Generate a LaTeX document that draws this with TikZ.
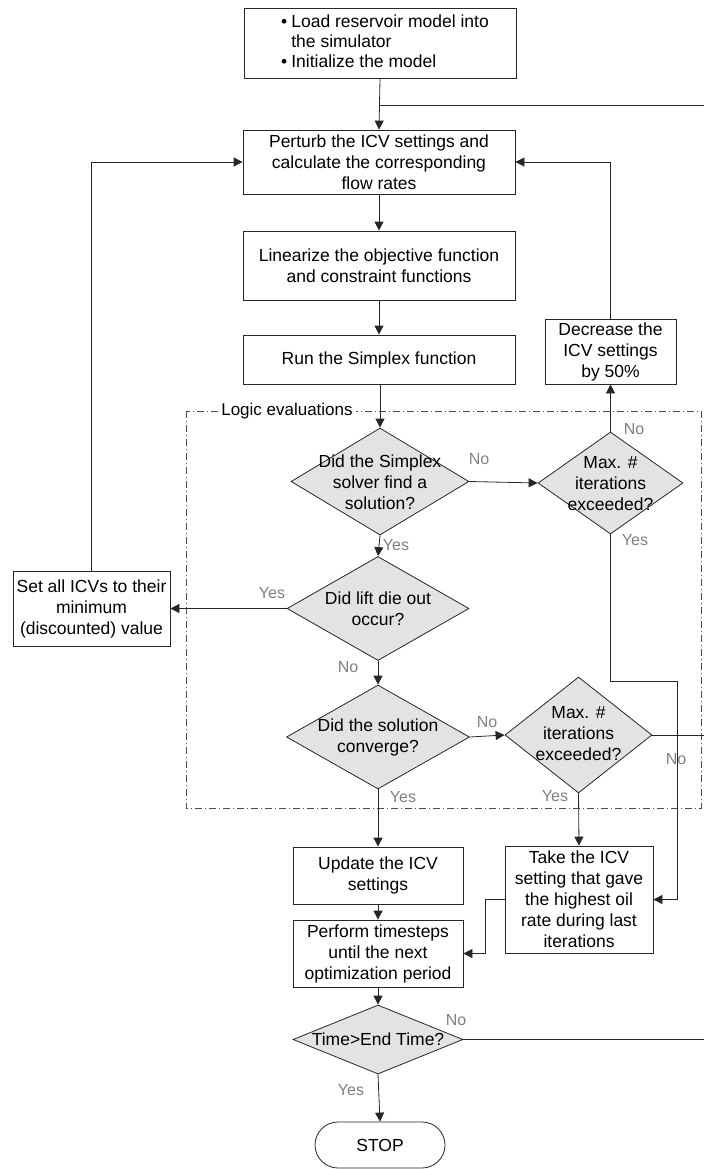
\documentclass[tikz,border=0pt]{standalone}
\usepackage{fontspec}
\setmainfont{Liberation Sans}
\usetikzlibrary{shapes.geometric,arrows.meta}
\begin{document}
\begin{tikzpicture}[x=1pt,y=-1pt,
  every node/.style={font=\fontsize{17.5}{21}\selectfont},
  proc/.style={draw=black!85, line width=0.8pt, fill=white, inner sep=0pt, align=center},
  dia/.style={diamond, draw=black!85, line width=0.8pt, fill=black!11, inner sep=0pt, aspect=1},
  dtext/.style={align=center, inner sep=0pt},
  lbl/.style={text=black!50, font=\fontsize{16}{18}\selectfont, inner sep=0pt},
  arr/.style={draw=black!85, line width=0.8pt, -{Triangle[length=9pt,width=9pt]}},
  ln/.style={draw=black!85, line width=0.8pt},
  frame/.style={draw=black!70, line width=0.7pt, dash pattern=on 7pt off 3pt on 1pt off 3pt}]
\useasboundingbox (0,0) rectangle (704,1169);

% logic evaluation frame
\draw[frame] (186,411) rectangle (701,808);
\node[fill=white, inner xsep=3pt, inner ysep=1pt, font=\fontsize{17}{20}\selectfont] (logic) at (287,411) {Logic evaluations};

% process boxes
\node[proc, minimum width=272pt, minimum height=70pt] (load) at (380,43.5)
  {\hspace*{10pt}\begin{tabular}{@{}l@{\hspace{4pt}}l@{}}\textbullet & Load reservoir model into\\[-1pt] & the simulator\\[-1pt] \textbullet & Initialize the model\end{tabular}};
\node[proc, minimum width=272pt, minimum height=64pt] (pert) at (379,162)
  {Perturb the ICV settings and\\calculate the corresponding\\flow rates};
\node[proc, minimum width=272pt, minimum height=69pt] (lin) at (379,265.5)
  {Linearize the objective function\\and constraint functions};
\node[proc, minimum width=272pt, minimum height=49pt] (simp) at (379,359.5)
  {Run the Simplex function};
\node[proc, minimum width=131pt, minimum height=65pt] (dec) at (610.5,351.5)
  {Decrease the\\ICV settings\\by 50\%};
\node[proc, minimum width=157pt, minimum height=75pt] (setall) at (91.5,608.5)
  {Set all ICVs to their\\minimum\\(discounted) value};
\node[proc, minimum width=170pt, minimum height=57pt] (upd) at (378,875.5)
  {Update the ICV\\settings};
\node[proc, minimum width=170pt, minimum height=67pt] (perf) at (378,953.5)
  {Perform timesteps\\until the next\\optimization period};
\node[proc, minimum width=148pt, minimum height=107pt] (take) at (579,899.5)
  {Take the ICV\\setting that gave\\the highest oil\\rate during last\\iterations};
\node[proc, rounded corners=23pt, minimum width=130pt, minimum height=46pt] (stop) at (380,1145)
  {STOP};

% decisions
\node[dia, minimum width=178pt, minimum height=107pt] (d1) at (380,481.5) {};
\node[dtext] (d1t) at (380,482) {Did the Simplex\\solver find a\\solution?};
\node[dia, minimum width=145pt, minimum height=102pt] (d2) at (610.5,483) {};
\node[dtext] (d2t) at (610.5,484) {Max. \#\\iterations\\exceeded?};
\node[dia, minimum width=182pt, minimum height=104pt] (d3) at (378,608.5) {};
\node[dtext] (d3t) at (378,609) {Did lift die out\\occur?};
\node[dia, minimum width=183pt, minimum height=104pt] (d4) at (378,737) {};
\node[dtext] (d4t) at (378,737) {Did the solution\\converge?};
\node[dia, minimum width=147pt, minimum height=116pt] (d5) at (578.5,735) {};
\node[dtext] (d5t) at (578.5,734) {Max. \#\\iterations\\exceeded?};
\node[dia, minimum width=170pt, minimum height=69pt] (d6) at (378,1039.5) {};
\node[dtext] (d6t) at (378,1039.5) {Time>End Time?};

% free ends at the right edge
\coordinate (j1) at (380,105);
\coordinate (r1) at (704,105);
\coordinate (r5) at (704,735);
\coordinate (r6) at (704,1039.5);

% connectors
\draw[arr] (load.south) -- (pert.north);
\draw[ln] (j1) -- (r1);
\draw[arr] (pert.south) -- (lin.north);
\draw[arr] (lin.south) -- (simp.north);
\draw[arr] (simp.south -| d1.north) -- (d1.north);
\draw[arr] (d1.east) -- (d2.west);
\draw[arr] (d2.north) -- (dec.south);
\draw[arr] (dec.north) |- (pert.east);
\draw[arr] (d1.south) -- (d3.north);
\draw[arr] (d3.west) -- (setall.east |- d3.west);
\draw[arr] (setall.north) |- (pert.west);
\draw[arr] (d3.south) -- (d4.north);
\draw[arr] (d4.east) -- (d5.west);
\draw[ln] (d5.east) -- (r5);
\draw[arr] (d4.south) -- (upd.north);
\draw[arr] (d5.south) -- (take.north);
\draw[arr] (d2.south) -- (610.5,681) -- (677,681) |- (take.east);
\draw[arr] (take.west) -- (485,899.5) |- (perf.east);
\draw[arr] (upd.south) -- (perf.north);
\draw[arr] (perf.south) -- (d6.north);
\draw[ln] (d6.east) -- (r6);
\draw[arr] (d6.south) -- (stop.north);

% branch labels
\node[lbl] (l1) at (479,459) {No};
\node[lbl] (l2) at (396,545) {Yes};
\node[lbl] (l3) at (634,429) {No};
\node[lbl] (l4) at (635,540) {Yes};
\node[lbl] (l5) at (272,593) {Yes};
\node[lbl] (l6) at (348,667) {No};
\node[lbl] (l7) at (487,722) {No};
\node[lbl] (l8) at (403,797) {Yes};
\node[lbl] (l9) at (555,796) {Yes};
\node[lbl] (l10) at (676,759) {No};
\node[lbl] (l11) at (456,1020) {No};
\node[lbl] (l12) at (351,1090) {Yes};
\end{tikzpicture}
\end{document}
